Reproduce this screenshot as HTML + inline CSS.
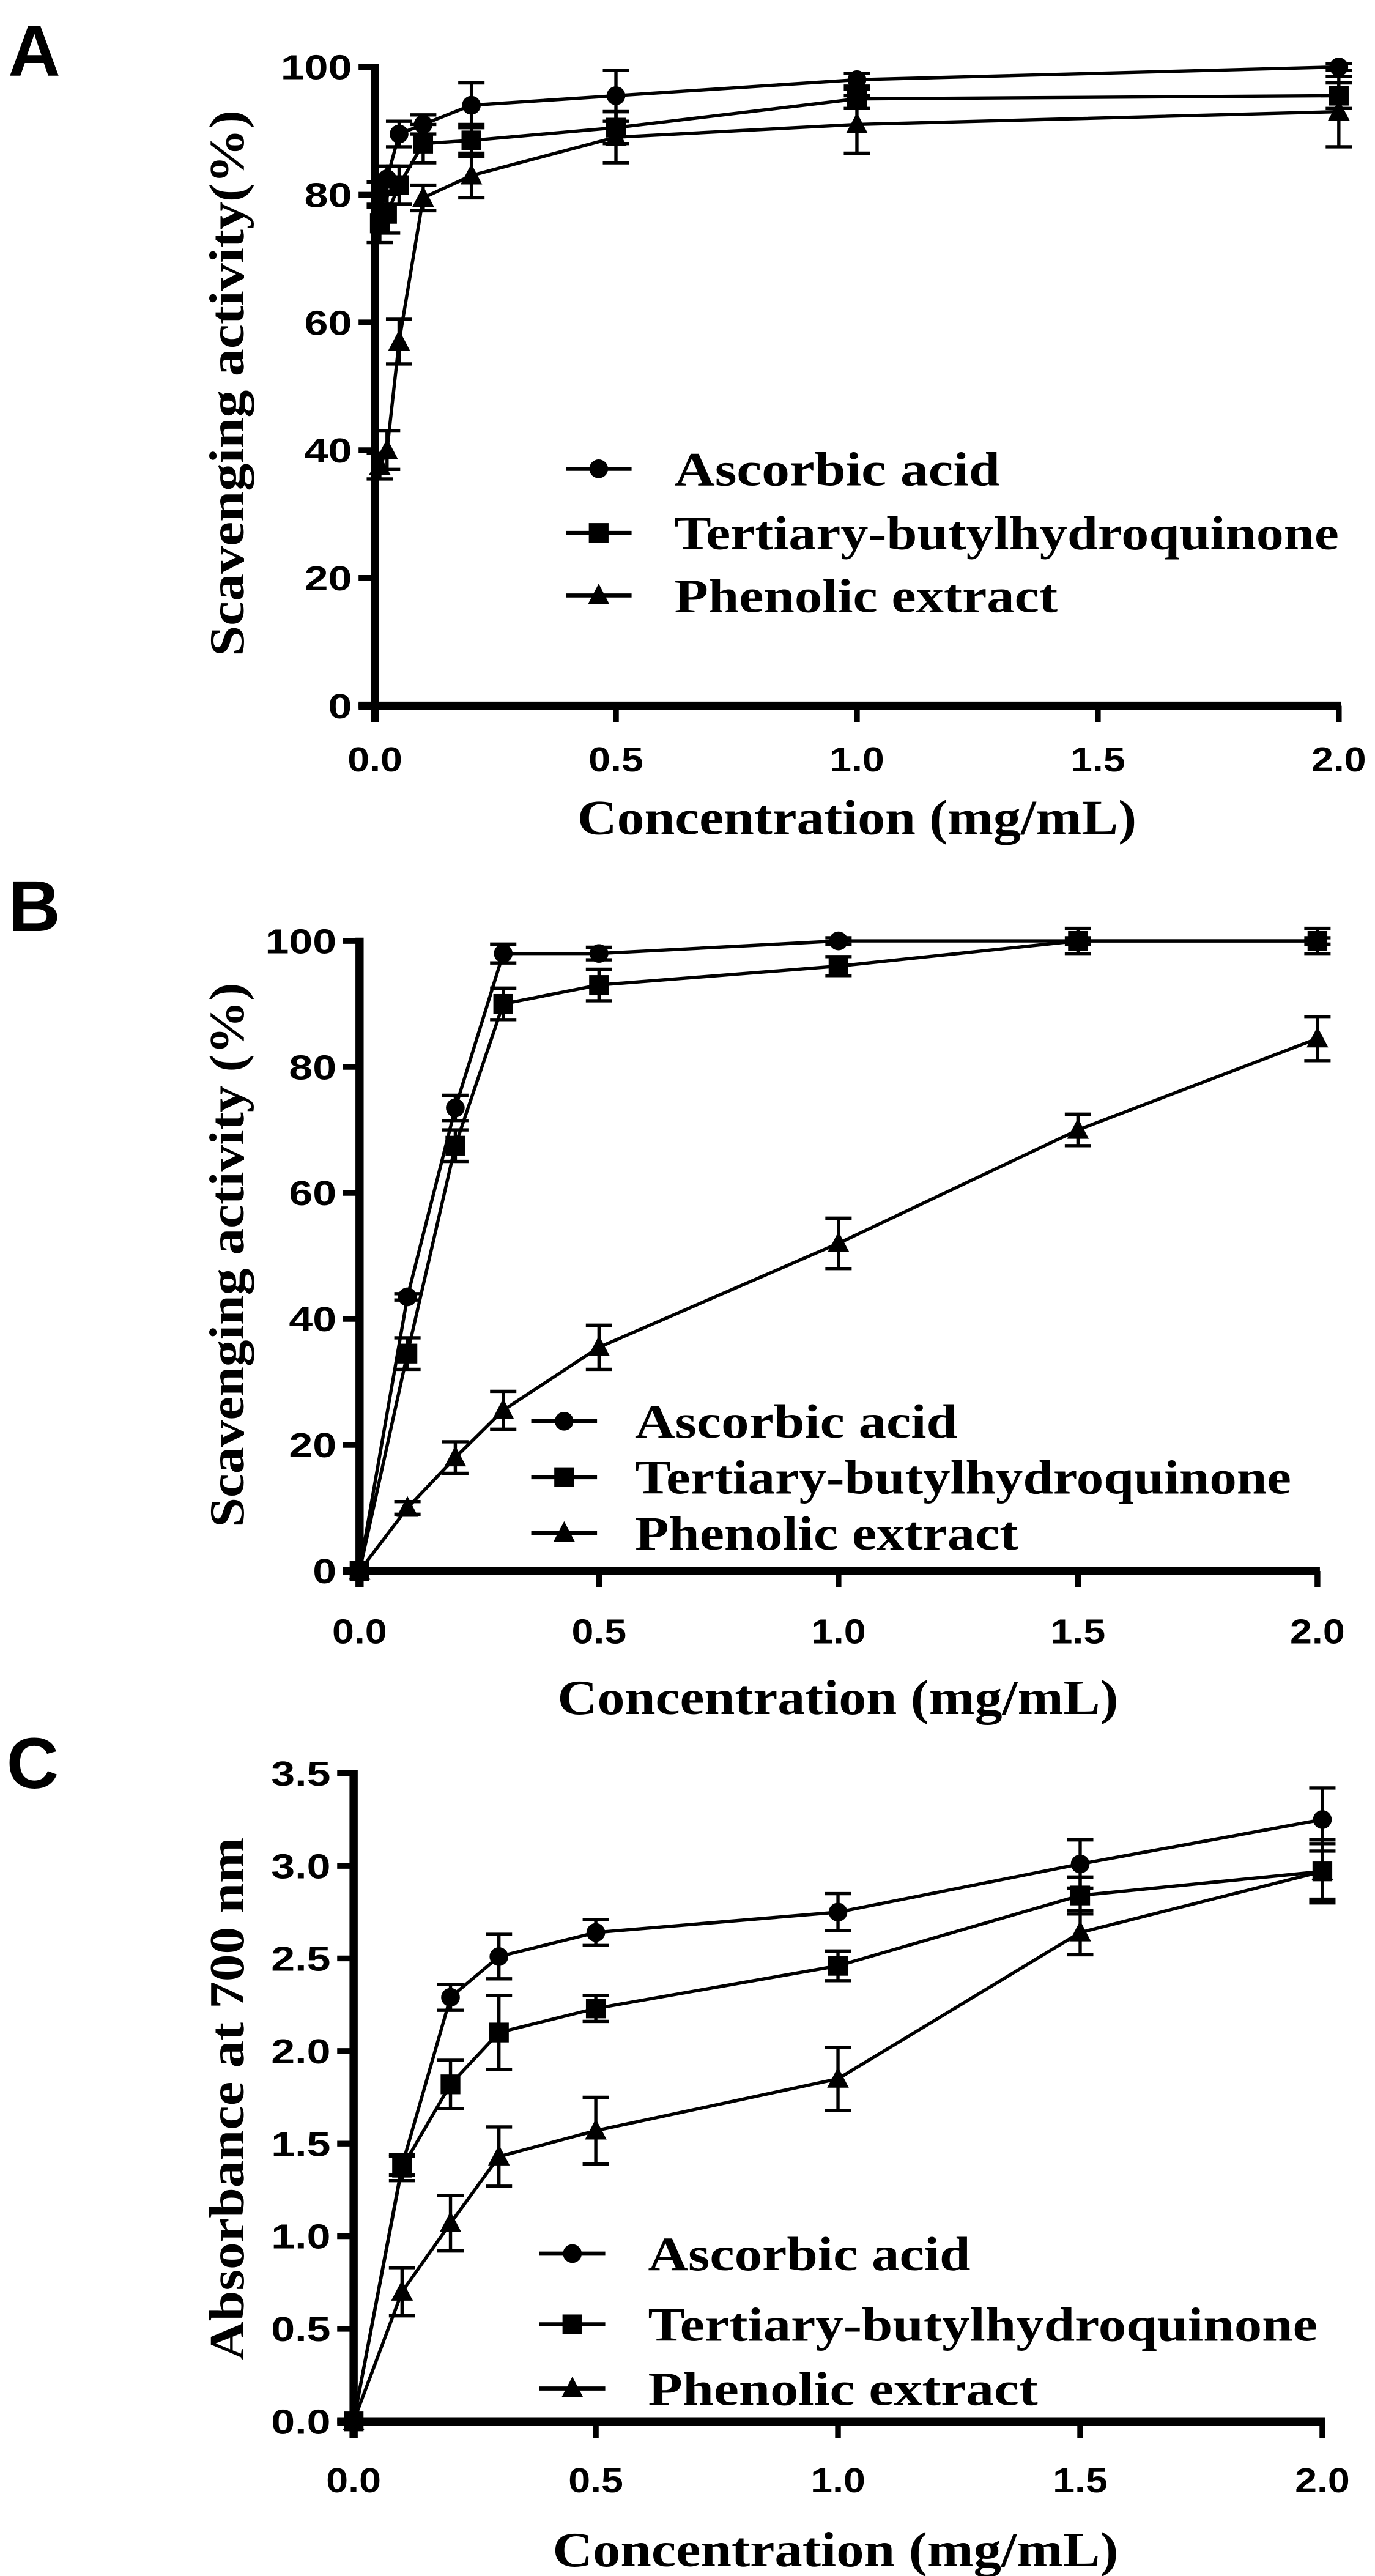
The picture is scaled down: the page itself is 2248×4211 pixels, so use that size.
<!DOCTYPE html>
<html><head><meta charset="utf-8"><style>
html,body{margin:0;padding:0;background:#fff}
svg{display:block}
.tk{font-family:"Liberation Sans",sans-serif;font-weight:bold;font-size:20px}
.tt{font-family:"Liberation Serif",serif;font-weight:bold;font-size:30px}
.yt{font-family:"Liberation Serif",serif;font-weight:bold;font-size:30px}
.lg{font-family:"Liberation Serif",serif;font-weight:bold;font-size:29px}
.pl{font-family:"Liberation Sans",sans-serif;font-weight:bold;font-size:44px}
</style></head><body>
<svg id="fig" width="2248" height="4211" viewBox="0 0 836 1566" preserveAspectRatio="none" xmlns="http://www.w3.org/2000/svg"></svg>
<script>
// Panel A
const xA=[0.01,0.025,0.05,0.1,0.2,0.5,1,2];
const ascA=[80,82.5,89.5,91,94,95.5,98,100];
const ascAe=[2,2,2,1.5,3.5,4,1,0.5];
const tbA=[75.5,77,81.5,88,88.5,90.5,95,95.5];
const tbAe=[3,3,3,3,2.5,2.5,1.5,2];
const phA=[37.5,40,57,79.5,83,89,91,93];
const phAe=[2,3,3.5,2,3.5,4,4.5,5.5];
// Panel B
const xB=[0,0.1,0.2,0.3,0.5,1,1.5,2];
const ascB=[0,43.5,73.5,98,98,100,100,100];
const ascBe=[0,0.5,2,1.5,1,0.5,0.5,0.5];
const tbB=[0,34.5,67.5,90,93,96,100,100];
const tbBe=[0,2.5,2.5,2.5,2.5,1.5,2,2];
const phB=[0,10,18,25.5,35.5,52,70,84.5];
const phBe=[0,1,2.5,3,3.5,4,2.5,3.5];
// Panel C
const xC=[0,0.1,0.2,0.3,0.5,1,1.5,2];
const ascC=[0,1.38,2.29,2.51,2.64,2.75,3.01,3.25];
const ascCe=[0,0.05,0.07,0.12,0.07,0.1,0.13,0.17];
const tbC=[0,1.37,1.82,2.10,2.23,2.46,2.84,2.97];
const tbCe=[0,0.07,0.13,0.2,0.07,0.08,0.1,0.17];
const phC=[0,0.70,1.07,1.43,1.57,1.85,2.64,2.97];
const phCe=[0,0.13,0.15,0.16,0.18,0.17,0.12,0.15];
const xTicks=["0.0","0.5","1.0","1.5","2.0"];
const yTicksAB=["0","20","40","60","80","100"];
const yTicksC=["0.0","0.5","1.0","1.5","2.0","2.5","3.0","3.5"];
const legendNames=["Ascorbic acid","Tertiary-butylhydroquinone","Phenolic extract"];

const NS="http://www.w3.org/2000/svg";
const svg=document.getElementById('fig');
function mk(tag,attrs,parent){const e=document.createElementNS(NS,tag);for(const k in attrs)e.setAttribute(k,attrs[k]);(parent||svg).appendChild(e);return e;}
function marker(g,type,x,y,s){
  let m;
  if(type===0)m=mk('circle',{cx:x,cy:y,r:s*0.95,fill:'#000'},g);
  else if(type===1)m=mk('rect',{x:x-s,y:y-s,width:2*s,height:2*s,fill:'#000'},g);
  else m=mk('polygon',{points:`${x},${y-s*1.2} ${x-s*1.1},${y+s*0.9} ${x+s*1.1},${y+s*0.9}`,fill:'#000'},g);
  return m;
}
function panel(cfg){
  const g=mk('g',{});
  
  
  const sx=v=>cfg.x0+(v-0)/(2)*(cfg.x1-cfg.x0);
  const sy=v=>cfg.y0+(v-cfg.ymin)/(cfg.ymax-cfg.ymin)*(cfg.y1-cfg.y0);
  const lt=mk('text',{x:cfg.lx,y:cfg.ly,class:'pl'},g);lt.textContent=cfg.letter;
  
  
  cfg.series.forEach((s,si)=>{
    const sg=mk('g',{},g);
    
    
    const pts=cfg.xs.map((xv,i)=>sx(xv)+','+sy(s.v[i])).join(' ');
    mk('polyline',{points:pts,fill:'none',stroke:'#000','stroke-width':2},sg);
    cfg.xs.forEach((xv,i)=>{
      const X=sx(xv),Y=sy(s.v[i]),e=s.e[i];
      if(e>0){
        const ya=sy(s.v[i]+e),yb=sy(s.v[i]-e);
        mk('line',{x1:X,y1:ya,x2:X,y2:yb,stroke:'#000','stroke-width':2},sg);
        mk('line',{x1:X-8,y1:ya,x2:X+8,y2:ya,stroke:'#000','stroke-width':2},sg);
        mk('line',{x1:X-8,y1:yb,x2:X+8,y2:yb,stroke:'#000','stroke-width':2},sg);
      }
      const m=marker(sg,si,X,Y,6);
      
      
    });
  });
  const ax=mk('g',{},g);
  
  
  mk('line',{x1:cfg.x0,y1:cfg.y1-2,x2:cfg.x0,y2:cfg.y0+10,stroke:'#000','stroke-width':5},ax);
  mk('line',{x1:cfg.x0-10,y1:cfg.y0,x2:cfg.x1+1.5,y2:cfg.y0,stroke:'#000','stroke-width':5},ax);
  xTicks.forEach(t=>{const X=sx(parseFloat(t));
    mk('line',{x1:X,y1:cfg.y0,x2:X,y2:cfg.y0+10,stroke:'#000','stroke-width':3.5},ax);
    const by=cfg.tly+8;
    const tx=mk('text',{x:X,y:by,'text-anchor':'middle',class:'tk',transform:`translate(${X} ${by}) scale(1.2 1.05) translate(${-X} ${-by})`},ax);
    
    
    tx.textContent=t;});
  cfg.yt.forEach(t=>{const Y=sy(parseFloat(t));
    mk('line',{x1:cfg.x0-10,y1:Y,x2:cfg.x0,y2:Y,stroke:'#000','stroke-width':3.5},ax);
    const rx=cfg.x0-14, by=Y+7.5;
    const tx=mk('text',{x:rx,y:by,'text-anchor':'end',class:'tk',transform:`translate(${rx} ${by}) scale(1.3 1.05) translate(${-rx} ${-by})`},ax);
    
    
    tx.textContent=t;});
  const xt=mk('text',{x:(cfg.xtA+cfg.xtB)/2,y:cfg.xty+10,'text-anchor':'middle',class:'tt',textLength:cfg.xtB-cfg.xtA,lengthAdjust:'spacingAndGlyphs'},g);
  
  
  xt.textContent="Concentration (mg/mL)";
  const ytl=mk('text',{x:0,y:0,'text-anchor':'middle',class:'yt',textLength:cfg.ytLen,lengthAdjust:'spacingAndGlyphs',transform:`translate(148,${cfg.yty}) rotate(-90)`},g);
  
  
  ytl.textContent=cfg.ytitle;
  const lg=mk('g',{},g);
  
  
  legendNames.forEach((n,i)=>{
    const Y=cfg.legY[i];
    const e=mk('g',{},lg);
    
    
    mk('line',{x1:cfg.legX-20,y1:Y,x2:cfg.legX+20,y2:Y,stroke:'#000','stroke-width':2.5},e);
    marker(e,i,cfg.legX,Y,6);
    const t=mk('text',{x:cfg.legTx,y:Y+10,class:'lg',textLength:cfg.legW[i],lengthAdjust:'spacingAndGlyphs'},e);
    t.textContent=n;
  });
}
panel({name:'panel-a',letter:'A',lx:5,ly:46,x0:228,x1:814,y0:429,y1:40.7,ymin:0,ymax:100,xs:xA,yt:yTicksAB,tly:461,
  series:[{key:'ascorbic',v:ascA,e:ascAe},{key:'tbhq',v:tbA,e:tbAe},{key:'phenolic',v:phA,e:phAe}],
  xtA:351,xtB:691,xty:497,yty:233,ytLen:332,ytitle:"Scavenging activity(%)",
  legX:364,legTx:410,legY:[285,324,362],legW:[198,404,233]});
panel({name:'panel-b',letter:'B',lx:5,ly:566,x0:218.6,x1:801,y0:955,y1:572,ymin:0,ymax:100,xs:xB,yt:yTicksAB,tly:991,
  series:[{key:'ascorbic',v:ascB,e:ascBe},{key:'tbhq',v:tbB,e:tbBe},{key:'phenolic',v:phB,e:phBe}],
  xtA:339,xtB:680,xty:1032,yty:763,ytLen:331,ytitle:"Scavenging activity (%)",
  legX:343,legTx:386,legY:[864,898,932],legW:[196,399,233]});
panel({name:'panel-c',letter:'C',lx:4,ly:1087,x0:215,x1:804,y0:1472,y1:1078,ymin:0,ymax:3.5,xs:xC,yt:yTicksC,tly:1507,
  series:[{key:'ascorbic',v:ascC,e:ascCe},{key:'tbhq',v:tbC,e:tbCe},{key:'phenolic',v:phC,e:phCe}],
  xtA:336,xtB:680,xty:1550,yty:1276,ytLen:318,ytitle:"Absorbance at 700 nm",
  legX:348,legTx:394,legY:[1370,1413,1452],legW:[196,407,237]});
</script>
</body></html>
